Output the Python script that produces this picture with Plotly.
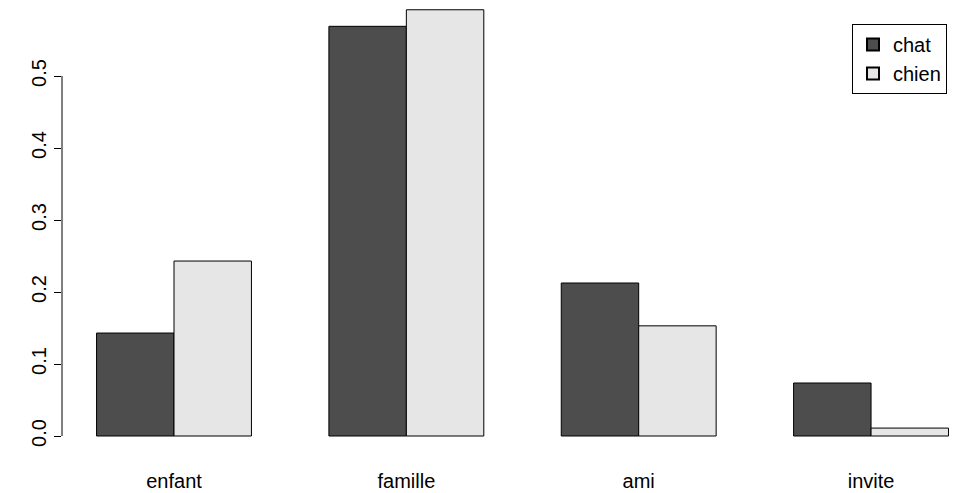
import plotly.graph_objects as go

categories = ["enfant", "famille", "ami", "invite"]
chat = [0.143, 0.569, 0.2125, 0.0736]
chien = [0.243, 0.592, 0.153, 0.011]
ytick_vals = [0.0, 0.1, 0.2, 0.3, 0.4, 0.5]
ytick_text = ["0.0", "0.1", "0.2", "0.3", "0.4", "0.5"]

W, H = 959, 493
ml, mr, mt, mb = 62, 0, 0, 40
font = dict(family="Liberation Sans, Arial, Helvetica, sans-serif", size=20, color="black")

fig = go.Figure()
fig.add_trace(go.Bar(x=categories, y=chat, name="chat",
                     marker=dict(color="#4D4D4D", line=dict(color="black", width=1))))
fig.add_trace(go.Bar(x=categories, y=chien, name="chien",
                     marker=dict(color="#E6E6E6", line=dict(color="black", width=1))))

# pixel geometry: category 0 centre at x=174, one category = 232.35 px
unit = 232.35
c0 = 174
xr = [(ml - c0) / unit, (W - c0) / unit]
# y: 0 at pixel 436, 720 px per unit
pb = H - mb
yr = [-(pb - 436) / 720, 436 / 720]

fig.update_layout(
    width=W, height=H,
    margin=dict(l=ml, r=mr, t=mt, b=mb, pad=0, autoexpand=False),
    paper_bgcolor="white", plot_bgcolor="white",
    barmode="group", bargap=1/3, bargroupgap=0,
    font=font,
    showlegend=True,
    legend=dict(x=(852 - ml) / (W - ml), y=(pb - 24) / pb, xanchor="left", yanchor="top",
                bgcolor="white", bordercolor="black", borderwidth=1,
                font=font, itemsizing="constant", tracegroupgap=0,
                entrywidth=100, entrywidthmode="pixels"),
    xaxis=dict(range=xr, showline=False, showgrid=False, zeroline=False, ticks="",
               tickfont=font, ticklabelstandoff=14, automargin=False),
    yaxis=dict(range=yr, showline=False, showgrid=False, zeroline=False,
               tickvals=ytick_vals, ticktext=ytick_text, ticks="outside", ticklen=7,
               tickwidth=1, tickcolor="black", tickangle=-90, tickfont=font,
               automargin=False),
)
fig.add_shape(type="line", xref="paper", yref="y", x0=0, x1=0, y0=0, y1=0.5,
              line=dict(color="black", width=1))

fig.write_html("out.html", config={"displayModeBar": False},
               post_script="document.body.style.margin='0';document.body.style.overflow='hidden';")
